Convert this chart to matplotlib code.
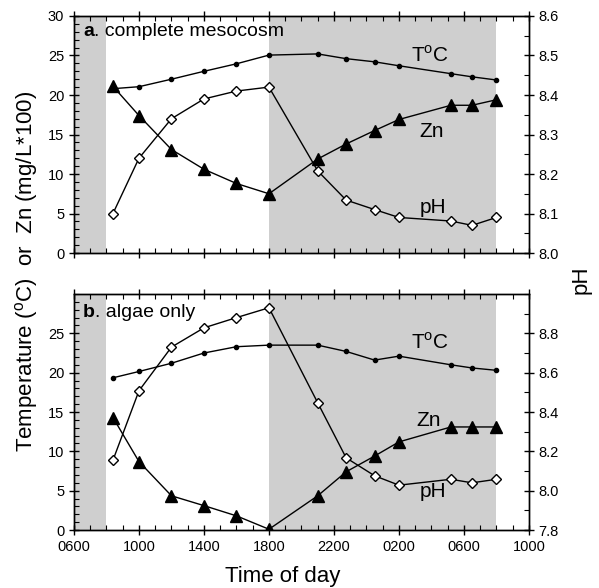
import matplotlib
matplotlib.use("Agg")
import matplotlib.pyplot as plt
from matplotlib.ticker import MultipleLocator

plt.rcParams['font.family'] = ['Liberation Sans', 'DejaVu Sans']
plt.rcParams['mathtext.fontset'] = 'custom'
plt.rcParams['mathtext.rm'] = 'Liberation Sans'

# sampling times, hours from midnight of day 1
hours = [8.4, 10, 12, 14, 16, 18, 21, 22.75, 24.5, 26, 29.2, 30.5, 32]

# a. complete mesocosm
temp_a = [20.8, 21.05, 22.0, 23.0, 23.95, 25.05, 25.2, 24.6, 24.2, 23.7, 22.7, 22.3, 21.9]
zn_a = [21.1, 17.4, 13.1, 10.6, 8.8, 7.5, 11.9, 13.8, 15.5, 16.9, 18.7, 18.7, 19.4]
ph_a = [8.10, 8.24, 8.34, 8.39, 8.41, 8.42, 8.208, 8.134, 8.11, 8.09, 8.081, 8.07, 8.09]

# b. algae only
temp_b = [19.35, 20.15, 21.2, 22.5, 23.3, 23.5, 23.5, 22.7, 21.6, 22.1, 21.0, 20.6, 20.3]
zn_b = [14.3, 8.7, 4.35, 3.1, 1.8, 0.1, 4.35, 7.4, 9.4, 11.2, 13.1, 13.1, 13.1]
ph_b = [8.155, 8.508, 8.73, 8.828, 8.88, 8.93, 8.447, 8.167, 8.076, 8.028, 8.058, 8.04, 8.058]

xtick_pos = [6, 10, 14, 18, 22, 26, 30, 34]
xtick_labels = ['0600', '1000', '1400', '1800', '2200', '0200', '0600', '1000']
dark = [(6, 8), (18, 32)]

fig = plt.figure(figsize=(5.99, 5.88), dpi=100)
ax_a = fig.add_axes([0.1235, 0.5697, 0.7595, 0.4031])
ax_b = fig.add_axes([0.1235, 0.0986, 0.7595, 0.4014])


def style_ticks(ax):
    ax.tick_params(which='major', direction='inout', length=7, width=1, labelsize=10.5)
    ax.tick_params(which='minor', direction='in', length=3.5, width=0.8)
    for s in ax.spines.values():
        s.set_linewidth(1)


def panel(ax, temp, zn, ph, ph_lim, ph_major, ph_minor, ph_ticks, left_ticks, title, title_y, labs):
    for a, b in dark:
        ax.axvspan(a, b, color='#cfcfcf', lw=0, zorder=0)
    ax.plot(hours, temp, '-', color='k', lw=1, marker='o', ms=3, zorder=3)
    ax.plot(hours, zn, '-', color='k', lw=1, marker='^', ms=8, zorder=3)
    ax.set_xlim(6, 34)
    ax.set_ylim(0, 30)
    ax.set_yticks(left_ticks)
    ax.yaxis.set_minor_locator(MultipleLocator(1))
    ax.xaxis.set_minor_locator(MultipleLocator(1))
    ax.set_xticks(xtick_pos)
    ax.tick_params(top=True, which='both')
    style_ticks(ax)
    t = ax.text(6.55, title_y, title[0], fontsize=14, fontweight='bold', va='center')
    ax.annotate(title[1], xy=(1, 0.5), xycoords=t, fontsize=14, va='center')

    ax2 = ax.twinx()
    ax2.plot(hours, ph, '-', color='k', lw=1, marker='D', ms=5.5,
             markerfacecolor='white', markeredgecolor='k', zorder=3)
    ax2.set_ylim(*ph_lim)
    ax2.yaxis.set_minor_locator(MultipleLocator(ph_minor))
    ax2.set_yticks(ph_ticks)
    ax2.set_yticklabels(['%.1f' % v for v in ph_ticks])
    style_ticks(ax2)

    for txt, x, y in labs:
        ax.text(x, y, txt, fontsize=15, ha='center', va='center')
    return ax2


panel(ax_a, temp_a, zn_a, ph_a, (8.0, 8.6), 0.1, 0.05,
      [8.0, 8.1, 8.2, 8.3, 8.4, 8.5, 8.6], [0, 5, 10, 15, 20, 25, 30],
      ('a', '. complete mesocosm'), 28.0,
      [('T$^{\\rm o}$C', 27.9, 25.0), ('Zn', 28.0, 15.4), ('pH', 28.1, 5.8)])
ax_a.set_xticklabels([])

panel(ax_b, temp_b, zn_b, ph_b, (7.8, 9.0), 0.2, 0.1,
      [7.8, 8.0, 8.2, 8.4, 8.6, 8.8], [0, 5, 10, 15, 20, 25],
      ('b', '. algae only'), 27.7,
      [('T$^{\\rm o}$C', 27.9, 23.8), ('Zn', 27.8, 13.9), ('pH', 28.1, 4.9)])
ax_b.set_xticklabels(xtick_labels)

fig.text(0.472, 0.02, 'Time of day', fontsize=16, ha='center', va='center')
fig.text(0.045, 0.539, 'Temperature ($^{\\rm o}$C)  or  Zn (mg/L*100)', fontsize=16,
         rotation=90, ha='center', va='center')
fig.text(0.97, 0.524, 'pH', fontsize=16, rotation=90, ha='center', va='center')

fig.savefig('out.png', dpi=100)
